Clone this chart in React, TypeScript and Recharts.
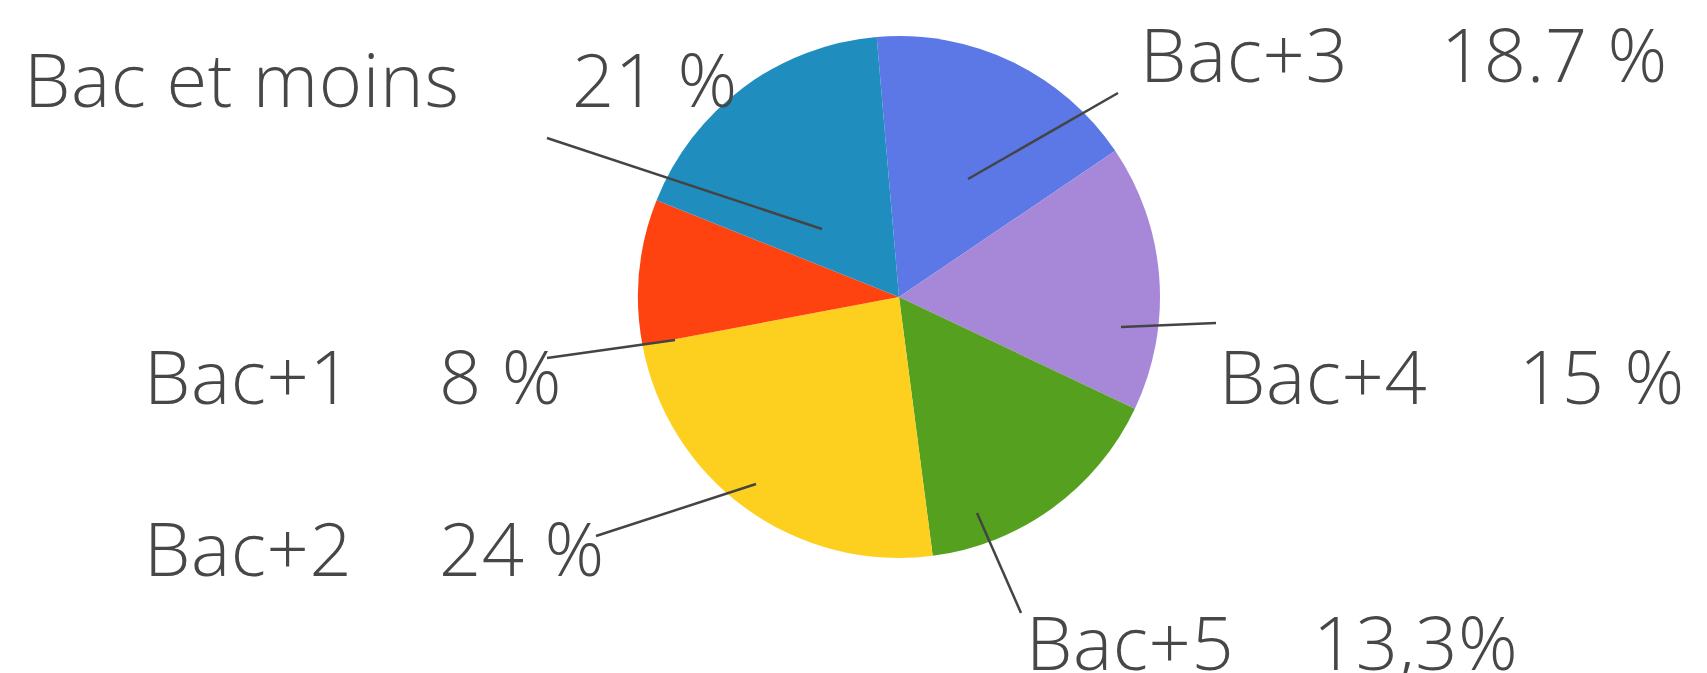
import React from 'react';
import { PieChart, Pie, Cell } from 'recharts';

// slices clockwise from the top
const categories = ['Bac+3', 'Bac+4', 'Bac+5', 'Bac+2', 'Bac+1', 'Bac et moins'];
const shares = [16.9, 16.5, 15.9, 24.1, 9.0, 17.6];
const percentLabels = ['18.7 %', '15 %', '13,3%', '24 %', '8 %', '21 %'];

const COLORS = ['#5B78E6', '#A787D8', '#55A01E', '#FDD020', '#FF4310', '#1F8EBF'];

const data = categories.map((name, i) => ({ name, value: shares[i] }));

const CX = 899;
const CY = 297;
const TEXT = '#474747';
const FONT = '"Open Sans", "Noto Sans", sans-serif';

// offsets from the pie centre: leader line (outer -> inner), name and percent positions
const LAYOUT = [
  { line: [219, -204, 69, -118], name: [241, -215], pct: [542, -215] },
  { line: [317, 26, 222, 30], name: [320, 107], pct: [620, 107] },
  { line: [122, 316, 78, 216], name: [127, 373], pct: [414, 373] },
  { line: [-303, 239, -143, 187], name: [-755, 279], pct: [-460, 279] },
  { line: [-352, 61, -224, 43], name: [-755, 107], pct: [-460, 107] },
  { line: [-352, -159, -77, -68], name: [-875, -190], pct: [-327, -190] },
];

const renderLabel = (props: any) => {
  const { index } = props;
  const cx = props.cx ?? CX;
  const cy = props.cy ?? CY;
  const l = LAYOUT[index];
  const textProps = { fill: TEXT, fontSize: 74, fontFamily: FONT, fontWeight: 300, letterSpacing: 0.6 };
  return (
    <g key={`label-${index}`}>
      <line
        x1={cx + l.line[0]}
        y1={cy + l.line[1]}
        x2={cx + l.line[2]}
        y2={cy + l.line[3]}
        stroke="#444"
        strokeWidth={2.5}
      />
      <text x={cx + l.name[0]} y={cy + l.name[1]} textAnchor="start" {...textProps}>
        {categories[index]}
      </text>
      <text x={cx + l.pct[0]} y={cy + l.pct[1]} textAnchor="start" {...textProps}>
        {percentLabels[index]}
      </text>
    </g>
  );
};

export default function App() {
  return (
    <div style={{ position: 'absolute', left: 0, top: 0, width: 1707, height: 673, background: '#fff' }}>
      <PieChart width={1707} height={673} margin={{ top: 0, right: 0, bottom: 0, left: 0 }}>
        <Pie
          data={data}
          dataKey="value"
          nameKey="name"
          cx={CX}
          cy={CY}
          outerRadius={261}
          startAngle={94.9}
          endAngle={-265.1}
          stroke="none"
          label={renderLabel}
          labelLine={false}
          isAnimationActive={false}
        >
          {data.map((entry, index) => (
            <Cell key={`cell-${index}`} fill={COLORS[index]} />
          ))}
        </Pie>
      </PieChart>
    </div>
  );
}
